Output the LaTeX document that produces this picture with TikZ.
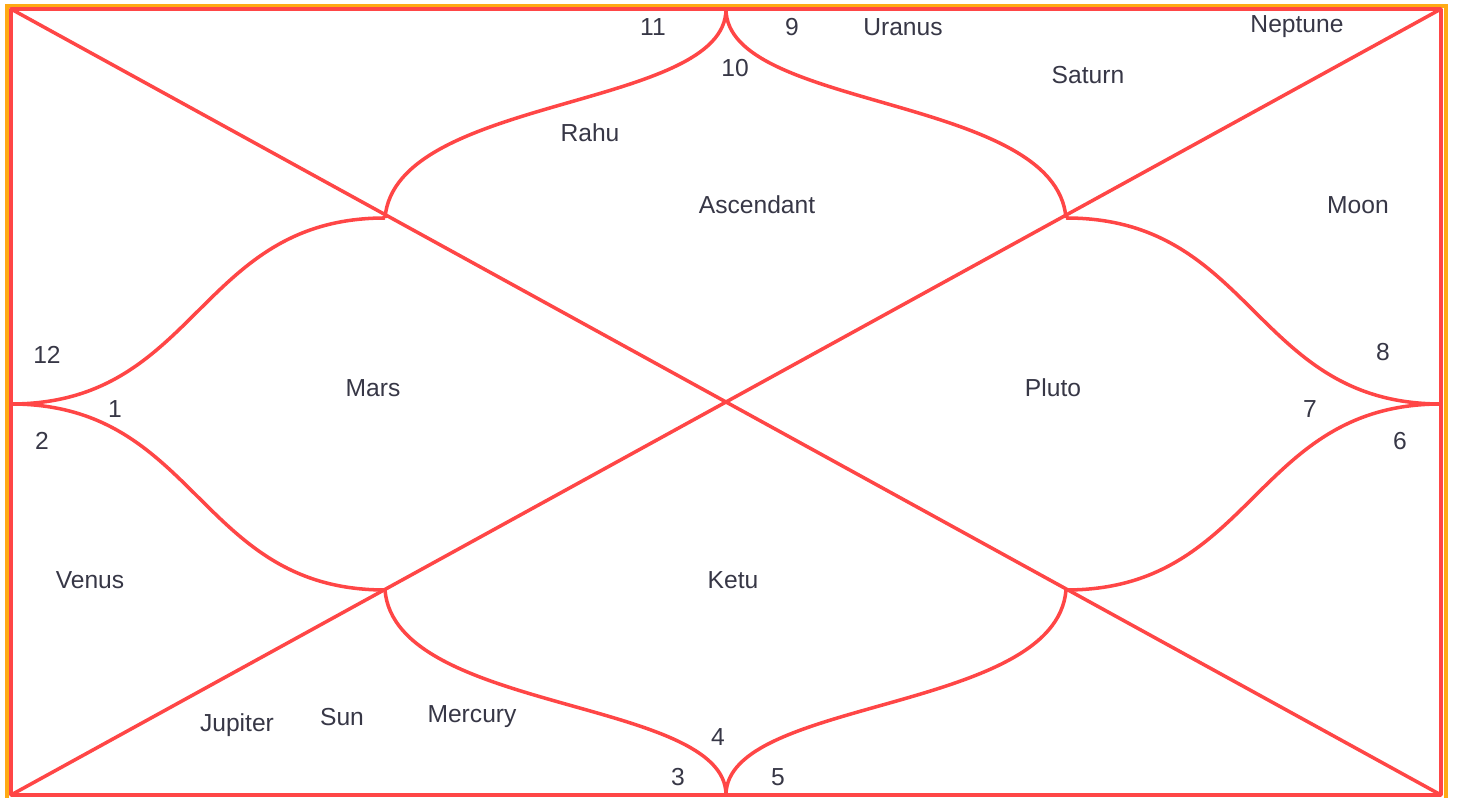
\documentclass[tikz,border=0pt]{standalone}
\usepackage{fontspec}
\setmainfont{Liberation Sans}
\definecolor{chartred}{RGB}{255,70,70}
\definecolor{frameor}{RGB}{255,170,20}
\definecolor{txt}{RGB}{55,55,70}
\begin{document}
\begin{tikzpicture}[x=0.01cm,y=-0.01cm,
  chartline/.style={draw=chartred,line width=1pt,line join=round},
  lbl/.style={text=txt,font=\fontsize{7}{8}\selectfont,inner sep=0pt}]
\useasboundingbox (0,0) rectangle (1457,798);
% frame
\draw[frameor,line width=1.2pt] (7,6) rectangle (1446,800);
% corners and key points
\coordinate (tl) at (11,9);
\coordinate (tr) at (1441,9);
\coordinate (bl) at (11,795);
\coordinate (br) at (1441,795);
\coordinate (tm) at (726,9);
\coordinate (bm) at (726,795);
\coordinate (lm) at (11,404);
\coordinate (rm) at (1441,404);
\coordinate (p1) at (385,218);
\coordinate (p2) at (1066,218);
\coordinate (p3) at (385,590);
\coordinate (p4) at (1066,590);
\draw[chartline] (tl) rectangle (br);
\draw[chartline] (tl) -- (br);
\draw[chartline] (tr) -- (bl);
% top lobe
\draw[chartline] (p1) .. controls (395,95) and (726,110) .. (tm);
\draw[chartline] (p2) .. controls (1056,95) and (726,110) .. (tm);
% bottom lobe
\draw[chartline] (p3) .. controls (395,713) and (726,698) .. (bm);
\draw[chartline] (p4) .. controls (1056,713) and (726,698) .. (bm);
% left lobe
\draw[chartline] (lm) .. controls (198,404) and (198,218) .. (p1);
\draw[chartline] (lm) .. controls (198,404) and (198,590) .. (p3);
% right lobe
\draw[chartline] (rm) .. controls (1254,404) and (1254,218) .. (p2);
\draw[chartline] (rm) .. controls (1254,404) and (1254,590) .. (p4);
% labels
\node[lbl] (n11) at (653,27) {11};
\node[lbl] (n9) at (792,27) {9};
\node[lbl] (uranus) at (903,27) {Uranus};
\node[lbl] (neptune) at (1297,27) {Neptune};
\node[lbl] (n10) at (735,68) {10};
\node[lbl] (saturn) at (1088,75) {Saturn};
\node[lbl] (rahu) at (590,133) {Rahu};
\node[lbl] (asc) at (757,205) {Ascendant};
\node[lbl] (moon) at (1358,205) {Moon};
\node[lbl] (n12) at (47,355) {12};
\node[lbl] (mars) at (373,388) {Mars};
\node[lbl] (n1) at (115,409) {1};
\node[lbl] (pluto) at (1053,388) {Pluto};
\node[lbl] (n8) at (1383,352) {8};
\node[lbl] (n7) at (1310,409) {7};
\node[lbl] (n6) at (1400,441) {6};
\node[lbl] (n2) at (42,441) {2};
\node[lbl] (venus) at (90,580) {Venus};
\node[lbl] (ketu) at (733,580) {Ketu};
\node[lbl] (jupiter) at (237,725) {Jupiter};
\node[lbl] (sun) at (342,717) {Sun};
\node[lbl] (mercury) at (472,717) {Mercury};
\node[lbl] (n4) at (718,737) {4};
\node[lbl] (n3) at (678,777) {3};
\node[lbl] (n5) at (778,777) {5};
\end{tikzpicture}
\end{document}
